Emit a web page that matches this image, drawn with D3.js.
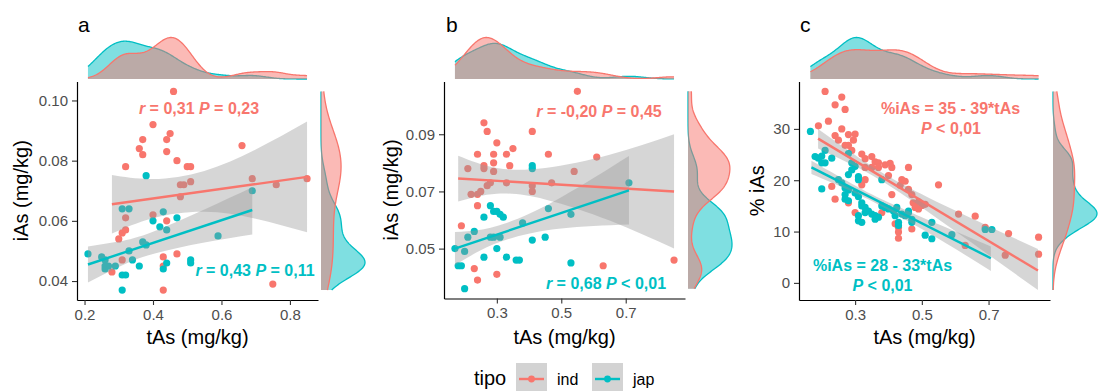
<!DOCTYPE html>
<html><head><meta charset="utf-8">
<script src="https://cdn.jsdelivr.net/npm/d3@7"></script>
<style>
html,body{margin:0;padding:0;background:#fff;}
svg{display:block;font-family:"Liberation Sans",Arial,sans-serif;}
</style></head>
<body>
<svg id="chart" width="1105" height="391"></svg>
<script>
// ---------------- DATA ----------------
const groups = ["ind", "jap"];
const groupColors = ["#F8766D", "#00BFC4"];

// Panel a: tAs vs iAs
const aInd = [[0.46,0.103],[0.40,0.092],[0.45,0.089],[0.44,0.087],[0.37,0.087],[0.36,0.084],[0.37,0.082],[0.44,0.083],[0.47,0.080],[0.32,0.078],[0.50,0.078],[0.51,0.078],[0.66,0.085],[0.51,0.073],[0.48,0.072],[0.49,0.072],[0.48,0.068],[0.69,0.074],[0.76,0.072],[0.85,0.074],[0.40,0.062],[0.44,0.060],[0.32,0.061],[0.31,0.056],[0.32,0.057],[0.30,0.054],[0.47,0.049],[0.43,0.048],[0.43,0.045],[0.43,0.037],[0.31,0.047],[0.28,0.043],[0.75,0.039]];
const aJap = [[0.38,0.075],[0.31,0.064],[0.33,0.064],[0.43,0.063],[0.40,0.060],[0.42,0.058],[0.44,0.057],[0.47,0.061],[0.59,0.055],[0.69,0.070],[0.37,0.053],[0.38,0.052],[0.33,0.050],[0.34,0.047],[0.36,0.045],[0.44,0.046],[0.51,0.047],[0.51,0.046],[0.43,0.044],[0.21,0.049],[0.25,0.048],[0.26,0.047],[0.26,0.044],[0.27,0.045],[0.29,0.045],[0.31,0.042],[0.32,0.042],[0.31,0.037],[0.26,0.045]];
// fitted lines [x, y] endpoints and confidence bands [x, lo, hi]
const aIndLine = [[0.28,0.0655],[0.85,0.0746]];
const aIndBand = [[0.28,0.0558,0.0752],[0.40,0.0609,0.0739],[0.55,0.0630,0.0766],[0.70,0.0607,0.0837],[0.85,0.0562,0.0930]];
const aJapLine = [[0.21,0.0455],[0.69,0.0636]];
const aJapBand = [[0.21,0.0395,0.0515],[0.30,0.0447,0.0531],[0.40,0.0490,0.0564],[0.55,0.0528,0.0638],[0.69,0.0555,0.0712]];
const aXTicks = [0.2,0.4,0.6,0.8];
const aXTickLabels = ["0.2","0.4","0.6","0.8"];
const aYTicks = [0.04,0.06,0.08,0.10];
const aYTickLabels = ["0.04","0.06","0.08","0.10"];

// Panel b
const bInd = [[0.55,0.105],[0.26,0.094],[0.27,0.091],[0.41,0.091],[0.30,0.087],[0.24,0.083],[0.29,0.083],[0.33,0.083],[0.35,0.085],[0.46,0.083],[0.61,0.082],[0.21,0.078],[0.26,0.078],[0.26,0.079],[0.29,0.080],[0.34,0.079],[0.29,0.077],[0.54,0.077],[0.33,0.073],[0.27,0.072],[0.28,0.073],[0.47,0.073],[0.41,0.072],[0.41,0.070],[0.22,0.069],[0.24,0.069],[0.25,0.070],[0.24,0.065],[0.19,0.058],[0.23,0.043],[0.24,0.039],[0.30,0.041],[0.63,0.044],[0.85,0.046]];
const bJap = [[0.41,0.079],[0.41,0.078],[0.71,0.073],[0.28,0.065],[0.29,0.063],[0.30,0.063],[0.31,0.062],[0.32,0.061],[0.26,0.061],[0.46,0.064],[0.53,0.062],[0.38,0.059],[0.21,0.054],[0.23,0.056],[0.28,0.054],[0.29,0.054],[0.31,0.054],[0.41,0.053],[0.45,0.054],[0.17,0.050],[0.20,0.049],[0.30,0.050],[0.26,0.047],[0.33,0.047],[0.36,0.046],[0.37,0.046],[0.18,0.044],[0.19,0.044],[0.53,0.045],[0.20,0.036]];
const bIndLine = [[0.18,0.0745],[0.85,0.0700]];
const bIndBand = [[0.18,0.0665,0.0825],[0.30,0.0692,0.0782],[0.45,0.0672,0.0782],[0.65,0.0598,0.0828],[0.85,0.0500,0.0900]];
const bJapLine = [[0.17,0.0500],[0.71,0.0704]];
const bJapBand = [[0.17,0.0442,0.0558],[0.25,0.0494,0.0566],[0.35,0.0538,0.0598],[0.50,0.0570,0.0680],[0.71,0.0584,0.0824]];
const bXTicks = [0.3,0.5,0.7];
const bXTickLabels = ["0.3","0.5","0.7"];
const bYTicks = [0.05,0.07,0.09];
const bYTickLabels = ["0.05","0.07","0.09"];

// Panel c
const cInd = [[0.21,37.3],[0.26,36.2],[0.24,34.7],[0.27,33.8],[0.19,30.6],[0.22,31.5],[0.26,30.0],[0.24,28.7],[0.25,27.8],[0.28,28.9],[0.30,29.0],[0.295,27.8],[0.28,26.8],[0.27,26.8],[0.29,25.8],[0.32,25.1],[0.33,24.2],[0.35,24.6],[0.36,23.6],[0.35,22.5],[0.37,23.4],[0.33,22.5],[0.39,23.0],[0.37,22.5],[0.41,22.5],[0.46,22.5],[0.405,23.3],[0.40,20.9],[0.44,20.1],[0.45,19.8],[0.435,19.0],[0.46,18.2],[0.47,17.2],[0.55,19.1],[0.474,15.6],[0.49,15.8],[0.50,15.1],[0.51,15.3],[0.48,14.7],[0.49,14.4],[0.33,20.1],[0.32,19.1],[0.23,18.8],[0.24,16.3],[0.28,15.6],[0.30,13.7],[0.38,13.7],[0.41,17.2],[0.42,11.5],[0.43,10.8],[0.43,9.9],[0.43,8.7],[0.47,10.5],[0.61,13.4],[0.66,13.0],[0.69,10.8],[0.63,7.3],[0.76,9.6],[0.75,5.4],[0.85,8.9],[0.85,5.6]];
const cJap = [[0.166,29.5],[0.18,24.6],[0.19,24.3],[0.20,24.7],[0.21,25.8],[0.23,24.3],[0.21,23.4],[0.20,23.4],[0.20,18.3],[0.28,25.2],[0.29,23.4],[0.30,22.7],[0.29,22.0],[0.28,21.1],[0.31,20.7],[0.31,20.1],[0.25,20.1],[0.26,19.5],[0.27,18.5],[0.28,18.1],[0.27,17.2],[0.27,16.3],[0.28,16.0],[0.30,17.5],[0.31,16.8],[0.32,15.6],[0.32,15.0],[0.33,14.7],[0.31,13.1],[0.31,12.1],[0.32,11.8],[0.33,13.7],[0.34,14.0],[0.35,13.4],[0.36,13.1],[0.36,12.4],[0.37,12.8],[0.38,20.1],[0.38,15.0],[0.39,14.7],[0.40,14.4],[0.415,14.0],[0.425,14.7],[0.42,13.1],[0.44,13.4],[0.45,13.1],[0.46,13.7],[0.46,14.0],[0.47,12.4],[0.47,11.8],[0.53,11.8],[0.51,9.3],[0.53,8.6],[0.59,9.4],[0.69,10.4],[0.71,10.4],[0.43,11.8],[0.43,11.2]];
const cIndLine = [[0.189,28.1],[0.848,2.4]];
const cIndBand = [[0.189,26.2,30.0],[0.30,22.7,24.9],[0.42,18.2,20.0],[0.60,10.1,14.1],[0.848,-1.4,6.6]];
const cJapLine = [[0.169,22.5],[0.707,4.8]];
const cJapBand = [[0.169,21.2,23.8],[0.28,18.1,19.7],[0.38,14.9,16.3],[0.55,8.6,11.4],[0.707,2.3,7.1]];
const cXTicks = [0.3,0.5,0.7];
const cXTickLabels = ["0.3","0.5","0.7"];
const cYTicks = [0,10,20,30];
const cYTickLabels = ["0","10","20","30"];

const xTitle = "tAs (mg/kg)";
const yTitles = ["iAs (mg/kg)", "iAs (mg/kg)", "% iAs"];
const panelLetters = ["a", "b", "c"];
const annotations = [
  [[["r",1]," = 0,31 ",["P",1]," = 0,23"], [["r",1]," = 0,43 ",["P",1]," = 0,11"]],
  [[["r",1]," = -0,20 ",["P",1]," = 0,45"], [["r",1]," = 0,68 ",["P",1]," < 0,01"]],
  [["%iAs = 35 - 39*tAs"], ["%iAs = 28 - 33*tAs"]]
];
const annotations2 = [null, null, [[["P",1]," < 0,01"], [["P",1]," < 0,01"]]];
const legendTitle = "tipo";

// ---------------- LAYOUT ----------------
const layout = [
  {left:77, right:318, top:81.5, bottom:300, yTitleX:28, letterX:78,
   ann:[[199,113.5],[255,275.5]], ann2:null},
  {left:444, right:685, top:81.5, bottom:298.5, yTitleX:397.5, letterX:446,
   ann:[[599,117],[606,289]], ann2:null},
  {left:799, right:1050, top:81.5, bottom:300, yTitleX:764, letterX:800,
   ann:[[950.5,113.5],[882.5,270.5]], ann2:[[951,133.5],[882.5,290.5]]}
];
const panelData = [
  {pts:[aInd,aJap], lines:[aIndLine,aJapLine], bands:[aIndBand,aJapBand], xt:aXTicks, xtl:aXTickLabels, yt:aYTicks, ytl:aYTickLabels},
  {pts:[bInd,bJap], lines:[bIndLine,bJapLine], bands:[bIndBand,bJapBand], xt:bXTicks, xtl:bXTickLabels, yt:bYTicks, ytl:bYTickLabels},
  {pts:[cInd,cJap], lines:[cIndLine,cJapLine], bands:[cIndBand,cJapBand], xt:cXTicks, xtl:cXTickLabels, yt:cYTicks, ytl:cYTickLabels}
];

const svg = d3.select("#chart");
const FONT_TICK = 15, FONT_TITLE = 20, FONT_ANN = 16;

function kde(vals, lo, hi, n) {
  const s = vals.slice().sort(d3.ascending);
  const sd = d3.deviation(s);
  const iqr = d3.quantileSorted(s, 0.75) - d3.quantileSorted(s, 0.25);
  let sc = Math.min(sd, iqr / 1.34);
  if (!(sc > 0)) sc = sd;
  const bw = 0.9 * sc * Math.pow(s.length, -0.2);
  const out = [];
  for (let i = 0; i < n; i++) {
    const x = lo + (hi - lo) * i / (n - 1);
    let sum = 0;
    for (const v of s) { const z = (x - v) / bw; sum += Math.exp(-0.5 * z * z); }
    out.push([x, sum / (s.length * bw * Math.sqrt(2 * Math.PI))]);
  }
  return out;
}

function expand(ext) { const w = ext[1] - ext[0]; return [ext[0] - 0.05 * w, ext[1] + 0.05 * w]; }

panelData.forEach((pd, pi) => {
  const L = layout[pi];
  const allPts = pd.pts.flat();
  const bandX = pd.bands.flat().map(d => d[0]);
  const bandY = pd.bands.flat().flatMap(d => [d[1], d[2]]);
  const xExt = d3.extent(allPts.map(d => d[0]).concat(bandX));
  const yExt = d3.extent(allPts.map(d => d[1]).concat(bandY));
  const x = d3.scaleLinear().domain(expand(xExt)).range([L.left, L.right]);
  const y = d3.scaleLinear().domain(expand(yExt)).range([L.bottom, L.top]);
  const g = svg.append("g");

  // points
  pd.pts.forEach((pts, gi) => {
    g.append("g").selectAll("circle").data(pts).join("circle")
      .attr("cx", d => x(d[0])).attr("cy", d => y(d[1])).attr("r", 3.6)
      .attr("fill", groupColors[gi]);
  });
  // bands + lines
  pd.bands.forEach((band, gi) => {
    const area = d3.area().curve(d3.curveNatural)
      .x(d => x(d[0])).y0(d => y(d[1])).y1(d => y(d[2]));
    g.append("path").attr("d", area(band)).attr("fill", "#999999").attr("fill-opacity", 0.4);
  });
  pd.lines.forEach((ln, gi) => {
    g.append("path").attr("d", d3.line().x(d => x(d[0])).y(d => y(d[1]))(ln))
      .attr("stroke", groupColors[gi]).attr("stroke-width", 2.4).attr("fill", "none");
  });

  // axes
  const xAxis = d3.axisBottom(x).tickValues(pd.xt).tickFormat((d, i) => pd.xtl[i]).tickSize(5).tickSizeOuter(0).tickPadding(4);
  const yAxis = d3.axisLeft(y).tickValues(pd.yt).tickFormat((d, i) => pd.ytl[i]).tickSize(5).tickSizeOuter(0).tickPadding(4);
  const gx = g.append("g").attr("transform", `translate(0,${L.bottom})`).call(xAxis);
  const gy = g.append("g").attr("transform", `translate(${L.left},0)`).call(yAxis);
  [gx, gy].forEach(ax => {
    ax.select(".domain").attr("stroke", "#000").attr("stroke-width", 1.2);
    ax.selectAll(".tick line").attr("stroke", "#333").attr("stroke-width", 1.1);
    ax.selectAll(".tick text").attr("fill", "#4D4D4D").style("font-size", FONT_TICK + "px")
      .style("font-family", '"Liberation Sans",Arial,sans-serif');
  });

  // titles
  g.append("text").attr("x", (L.left + L.right) / 2).attr("y", 343.5).attr("text-anchor", "middle")
    .style("font-size", FONT_TITLE + "px").attr("fill", "#000").text(xTitle);
  g.append("text").attr("transform", `translate(${L.yTitleX},${(L.top + L.bottom) / 2}) rotate(-90)`)
    .attr("text-anchor", "middle").style("font-size", FONT_TITLE + "px").attr("fill", "#000").text(yTitles[pi]);
  g.append("text").attr("x", L.letterX).attr("y", 32).style("font-size", "21px").attr("fill", "#000").text(panelLetters[pi]);

  // annotations
  function addAnn(parts, pos, color) {
    const t = g.append("text").attr("x", pos[0]).attr("y", pos[1]).attr("text-anchor", "middle")
      .style("font-size", FONT_ANN + "px").style("font-weight", "bold").attr("fill", color);
    parts.forEach(p => {
      if (Array.isArray(p)) t.append("tspan").style("font-style", "italic").text(p[0]);
      else t.append("tspan").text(p);
    });
  }
  annotations[pi].forEach((parts, gi) => addAnn(parts, L.ann[gi], groupColors[gi]));
  if (annotations2[pi]) annotations2[pi].forEach((parts, gi) => addAnn(parts, L.ann2[gi], groupColors[gi]));

  // marginal densities (top and right)
  const [xlo, xhi] = d3.extent(allPts.map(d => d[0]).concat(bandX));
  const [ylo, yhi] = d3.extent(allPts.map(d => d[1]).concat(bandY));
  const topD = pd.pts.map(pts => kde(pts.map(d => d[0]), xlo, xhi, 256));
  const rightD = pd.pts.map(pts => kde(pts.map(d => d[1]), ylo, yhi, 256));
  const topMax = d3.max(topD.flat(), d => d[1]);
  const rightMax = d3.max(rightD.flat(), d => d[1]);
  const dyTop = d3.scaleLinear().domain([0, topMax]).range([79, 37.5]);
  const rBase = L.right + 3;
  const dxRight = d3.scaleLinear().domain([0, rightMax]).range([rBase, rBase + 44]);
  const order = [1, 0]; // jap below, ind on top
  order.forEach(gi => {
    const dens = topD[gi];
    g.append("path").attr("d", d3.area().x(d => x(d[0])).y0(79).y1(d => dyTop(d[1]))(dens))
      .attr("fill", groupColors[gi]).attr("fill-opacity", 0.5);
    g.append("path").attr("d", d3.line().x(d => x(d[0])).y(d => dyTop(d[1]))(dens))
      .attr("fill", "none").attr("stroke", groupColors[gi]).attr("stroke-width", 1.3);
    const rd = rightD[gi];
    g.append("path").attr("d", d3.area().y(d => y(d[0])).x0(rBase).x1(d => dxRight(d[1]))(rd))
      .attr("fill", groupColors[gi]).attr("fill-opacity", 0.5);
    g.append("path").attr("d", d3.line().y(d => y(d[0])).x(d => dxRight(d[1]))(rd))
      .attr("fill", "none").attr("stroke", groupColors[gi]).attr("stroke-width", 1.3);
  });
});

// legend
const lg = svg.append("g");
lg.append("text").attr("x", 474).attr("y", 385).style("font-size", "20px").attr("fill", "#000").text(legendTitle);
const keyX = [516, 592];
groups.forEach((grp, i) => {
  const kx = keyX[i];
  lg.append("rect").attr("x", kx).attr("y", 363).attr("width", 31).attr("height", 32).attr("fill", "#D3D3D3");
  lg.append("line").attr("x1", kx + 3).attr("x2", kx + 28).attr("y1", 379).attr("y2", 379)
    .attr("stroke", groupColors[i]).attr("stroke-width", 2.4);
  lg.append("circle").attr("cx", kx + 15.5).attr("cy", 379).attr("r", 3.4).attr("fill", groupColors[i]);
  lg.append("text").attr("x", kx + 41).attr("y", 385).style("font-size", "16px").attr("fill", "#000").text(grp);
});
</script>
</body></html>
